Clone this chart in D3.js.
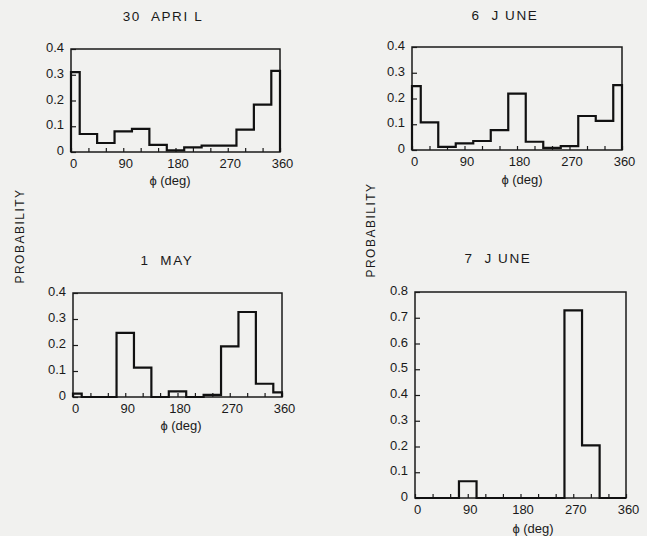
<!DOCTYPE html>
<html><head><meta charset="utf-8">
<script src="https://cdn.jsdelivr.net/npm/d3@7"></script>
<style>
body{margin:0;background:#f1f1ef;}
svg{display:block;}
text{font-family:"Liberation Sans",Arial,sans-serif;fill:#1a1a1a;}
</style></head><body>
<svg id="c" width="647" height="536"></svg>
<script>
// bin edges (degrees); first and last segments are halves of the bin centred on 0
const binEdges = [0,15,45,75,105,135,165,195,225,255,285,315,345,360];
const xTickLabels = [0,90,180,270,360];
const titles = ["30  APRI L","6  J UNE","1  MAY","7  J UNE"];
const april30 = [0.31,0.07,0.035,0.08,0.09,0.028,0.006,0.018,0.025,0.025,0.087,0.184,0.315];
const june6   = [0.248,0.107,0.012,0.026,0.035,0.077,0.219,0.032,0.008,0.015,0.132,0.113,0.252];
const may1    = [0.013,0,0,0.247,0.113,0,0.022,0,0.008,0.195,0.327,0.051,0.018];
const june7   = [0,0,0,0.065,0,0,0,0,0,0.729,0.204,0,0];
const yMaxSmall = 0.4, yMaxLarge = 0.8;

const svg = d3.select("#c");
const panels = [
  {title:titles[0], vals:april30, ymax:yMaxSmall, x0:71, x1:280, y0:49, y1:152, tx:163, ty:21, lx:170, ly:185},
  {title:titles[1], vals:june6,   ymax:yMaxSmall, x0:412, x1:622, y0:47, y1:150, tx:505, ty:20, lx:522, ly:184},
  {title:titles[2], vals:may1,    ymax:yMaxSmall, x0:73, x1:282, y0:293, y1:397, tx:167, ty:265, lx:181, ly:430},
  {title:titles[3], vals:june7,   ymax:yMaxLarge, x0:415, x1:626, y0:292, y1:498, tx:498, ty:263, lx:533, ly:533}
];

panels.forEach(p => {
  const g = svg.append("g");
  const x = d3.scaleLinear().domain([0,360]).range([p.x0,p.x1]);
  const y = d3.scaleLinear().domain([0,p.ymax]).range([p.y1,p.y0]);
  const xa = d3.axisBottom(x).tickValues(d3.range(0,361,30))
    .tickSizeInner(-4).tickSizeOuter(0).tickPadding(7)
    .tickFormat(d => xTickLabels.includes(d) ? d : "");
  const ya = d3.axisLeft(y).tickValues(d3.range(0,p.ymax+1e-9,0.1))
    .tickSizeInner(-5).tickSizeOuter(0).tickPadding(7)
    .tickFormat(d => Math.abs(d)<1e-9 ? "0" : d3.format(".1f")(d));
  const gx = g.append("g").attr("transform",`translate(0,${p.y1})`).call(xa);
  const gy = g.append("g").attr("transform",`translate(${p.x0},0)`).call(ya);
  [gx,gy].forEach(a=>{
    a.select(".domain").remove();
    a.selectAll("line").attr("stroke","#1a1a1a").attr("stroke-width",1.2);
    a.selectAll("text").style("font-size","13px").attr("fill","#1a1a1a")
      .style("font-family","'Liberation Sans',Arial,sans-serif");
  });
  gx.selectAll("text").attr("dx","2px");
  gy.selectAll("text").attr("dy","0.2em");
  // frame
  g.append("rect").attr("x",p.x0).attr("y",p.y0)
    .attr("width",p.x1-p.x0).attr("height",p.y1-p.y0)
    .attr("fill","none").attr("stroke","#1a1a1a").attr("stroke-width",1.5);
  // step histogram
  const pts = [[0,0]];
  p.vals.forEach((v,i)=>{ pts.push([binEdges[i],v]); pts.push([binEdges[i+1],v]); });
  pts.push([360,0]);
  const line = d3.line().x(d=>x(d[0])).y(d=>y(d[1]));
  g.append("path").attr("d",line(pts)).attr("fill","none")
    .attr("stroke","#111").attr("stroke-width",2.2).attr("stroke-linejoin","miter");
  // titles
  g.append("text").attr("x",p.tx).attr("y",p.ty).attr("text-anchor","middle")
    .style("font-size","13.5px").style("letter-spacing","1.6px").style("white-space","pre")
    .text(p.title);
  g.append("text").attr("x",p.lx).attr("y",p.ly).attr("text-anchor","middle")
    .style("font-size","13px").text("ϕ (deg)");
});

[[20,236],[371,230]].forEach(([cx,cy])=>{
  svg.append("text").attr("transform",`translate(${cx},${cy}) rotate(-90)`)
    .attr("text-anchor","middle").attr("dy","0.35em")
    .style("font-size","12px").style("letter-spacing","1.5px").text("PROBABILITY");
});
</script></body></html>
